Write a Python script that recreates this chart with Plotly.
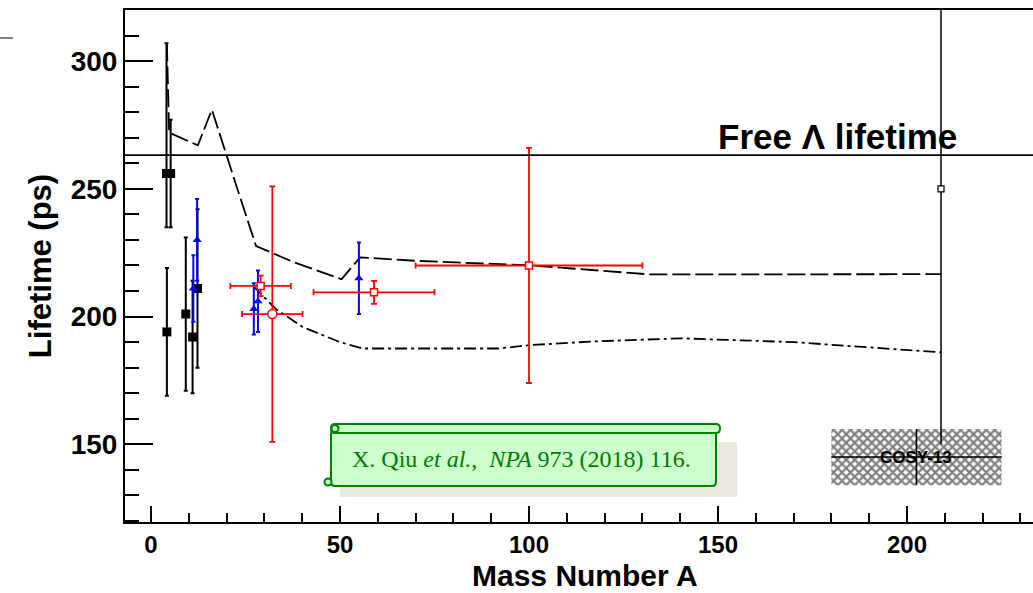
import plotly.graph_objects as go

# ---------------- data ----------------
black_A = [4.1, 5.2, 4.2, 9.2, 11.0, 12.3]
black_tau = [256, 256, 194, 201, 192, 211]
black_up = [51, 21, 25, 30, 22, 31]
black_dn = [21, 21, 25, 30, 22, 31]

blue_A = [11.2, 12.2, 27.2, 28.3, 55.0]
blue_tau = [211, 230, 203, 206, 215]
blue_err = [13, 16, 10, 12, 14]

red_sq_A = [29.0, 59.0, 100.0]
red_sq_tau = [212, 209.5, 220]
red_sq_yerr = [4, 4.5, 46]
red_sq_xerr = [8, 16, 30]

red_ci_A = [32.1]
red_ci_tau = [201]
red_ci_yerr = [50]
red_ci_xerr = [8]

pb_A = [209]
pb_tau = [250]
pb_up = [100]
pb_dn = [100]

cosy_A = [202.5]
cosy_tau = [145]
cosy_xerr = [22.5]
cosy_yerr = [11]

free_tau = 263.2

theo1_A = [4.2, 4.8, 12.4, 16.1, 23.5, 27.8, 37.6, 47.3, 50.4, 55.3, 70.3, 100, 132, 209]
theo1_tau = [307, 272, 267, 281, 247, 227.6, 221.4, 216.2, 214.6, 223.2, 221.8, 220.1, 216.5, 216.6]

theo2_A = [27, 33, 40, 50, 56, 92, 100, 116, 140, 170, 209]
theo2_tau = [212, 203, 196, 190, 187.5, 187.5, 188.8, 190.2, 191.5, 190, 186]

# ---------------- geometry helpers (pixel -> paper) ----------------
L, R, T, B = 125, 1033, 10, 522
def px(x):
    return (x - L) / (R - L)
def py(y):
    return (B - y) / (B - T)

FONT = "Liberation Sans"

fig = go.Figure()

# theory curves
fig.add_trace(go.Scatter(x=theo1_A, y=theo1_tau, mode="lines",
                         line=dict(color="black", width=1.8, dash="18px,5px"),
                         showlegend=False, hoverinfo="skip"))
fig.add_trace(go.Scatter(x=theo2_A, y=theo2_tau, mode="lines",
                         line=dict(color="black", width=1.8, dash="12px,4px,3px,4px"),
                         showlegend=False, hoverinfo="skip"))

# COSY-13 hatched band
cx0, cx1 = cosy_A[0] - cosy_xerr[0], cosy_A[0] + cosy_xerr[0]
cy0, cy1 = cosy_tau[0] - cosy_yerr[0], cosy_tau[0] + cosy_yerr[0]
fig.add_trace(go.Scatter(x=[cx0, cx1, cx1, cx0, cx0], y=[cy0, cy0, cy1, cy1, cy0],
                         mode="lines", fill="toself", line=dict(width=0, color="rgba(0,0,0,0)"),
                         fillcolor="white",
                         fillpattern=dict(shape="x", fgcolor="black", bgcolor="white",
                                          size=6, solidity=0.6),
                         showlegend=False, hoverinfo="skip"))
fig.add_trace(go.Scatter(x=cosy_A, y=cosy_tau, mode="markers",
                         marker=dict(size=1, color="black"),
                         error_x=dict(type="data", array=cosy_xerr, color="black", thickness=1.5, width=0),
                         error_y=dict(type="data", array=cosy_yerr, color="black", thickness=1.5, width=0),
                         showlegend=False))

# Pb point
fig.add_trace(go.Scatter(x=pb_A, y=pb_tau, mode="markers",
                         marker=dict(symbol="square", size=6, color="white",
                                     line=dict(color="black", width=1.2)),
                         error_y=dict(type="data", array=pb_up, arrayminus=pb_dn,
                                      color="black", thickness=1.5, width=0),
                         showlegend=False))

# black squares
fig.add_trace(go.Scatter(x=black_A, y=black_tau, mode="markers",
                         marker=dict(symbol="square", size=9, color="black"),
                         error_y=dict(type="data", array=black_up, arrayminus=black_dn,
                                      color="black", thickness=2, width=2),
                         showlegend=False))

# blue triangles
fig.add_trace(go.Scatter(x=blue_A, y=blue_tau, mode="markers",
                         marker=dict(symbol="triangle-up", size=8, color="blue"),
                         error_y=dict(type="data", array=blue_err, color="blue", thickness=2, width=2),
                         showlegend=False))

# red open squares
fig.add_trace(go.Scatter(x=red_sq_A, y=red_sq_tau, mode="markers",
                         marker=dict(symbol="square", size=7, color="white",
                                     line=dict(color="red", width=1.5)),
                         error_y=dict(type="data", array=red_sq_yerr, color="red", thickness=1.8, width=3),
                         error_x=dict(type="data", array=red_sq_xerr, color="red", thickness=1.8, width=3),
                         showlegend=False))
# red open circle
fig.add_trace(go.Scatter(x=red_ci_A, y=red_ci_tau, mode="markers",
                         marker=dict(symbol="circle", size=9, color="white",
                                     line=dict(color="red", width=1.5)),
                         error_y=dict(type="data", array=red_ci_yerr, color="red", thickness=1.8, width=3),
                         error_x=dict(type="data", array=red_ci_xerr, color="red", thickness=1.8, width=3),
                         showlegend=False))

shapes = []
# free lambda line
shapes.append(dict(type="line", xref="paper", yref="y", x0=0, x1=1, y0=free_tau, y1=free_tau,
                   line=dict(color="black", width=1.6)))
# annotation scroll: shadow
shapes.append(dict(type="rect", xref="paper", yref="paper",
                   x0=px(340), x1=px(737), y0=py(497), y1=py(442),
                   fillcolor="#ebe8df", line=dict(width=0), layer="above"))
# main green box (rounded)
x0, x1, y0, y1, r = 331, 716, 430, 486, 4
path = (f"M {px(x0+r)},{py(y0)} L {px(x1-r)},{py(y0)} Q {px(x1)},{py(y0)} {px(x1)},{py(y0+r)} "
        f"L {px(x1)},{py(y1-r)} Q {px(x1)},{py(y1)} {px(x1-r)},{py(y1)} "
        f"L {px(x0+r)},{py(y1)} Q {px(x0)},{py(y1)} {px(x0)},{py(y1-r)} "
        f"L {px(x0)},{py(y0+r)} Q {px(x0)},{py(y0)} {px(x0+r)},{py(y0)} Z")
shapes.append(dict(type="path", xref="paper", yref="paper", path=path,
                   fillcolor="#ccffcc", line=dict(color="#008000", width=2), layer="above"))
# top tube
tx0, tx1, ty0, ty1 = 331, 720, 424, 433
tpath = (f"M {px(tx0+4)},{py(ty0)} L {px(tx1-4)},{py(ty0)} Q {px(tx1)},{py(ty0)} {px(tx1)},{py((ty0+ty1)/2)} "
         f"Q {px(tx1)},{py(ty1)} {px(tx1-4)},{py(ty1)} L {px(tx0+4)},{py(ty1)} "
         f"Q {px(tx0)},{py(ty1)} {px(tx0)},{py((ty0+ty1)/2)} Q {px(tx0)},{py(ty0)} {px(tx0+4)},{py(ty0)} Z")
shapes.append(dict(type="path", xref="paper", yref="paper", path=tpath,
                   fillcolor="#ccffcc", line=dict(color="#008000", width=2), layer="above"))
# small curls
for cxp, cyp in [(335, 428.5), (328, 482)]:
    shapes.append(dict(type="circle", xref="paper", yref="paper",
                       x0=px(cxp-3.5), x1=px(cxp+3.5), y0=py(cyp+3.5), y1=py(cyp-3.5),
                       fillcolor="#ccffcc", line=dict(color="#008000", width=2), layer="above"))
# tiny artifact at top-left
shapes.append(dict(type="line", xref="paper", yref="paper", x0=px(0), x1=px(13), y0=py(38), y1=py(38),
                   line=dict(color="black", width=1)))

annotations = [
    dict(xref="paper", yref="paper", x=px(521), y=py(459), xanchor="center", yanchor="middle",
         text="X. Qiu <i>et al.</i>,  <i>NPA</i> 973 (2018) 116.", showarrow=False,
         font=dict(family="Liberation Serif", size=24, color="#007a00")),
    dict(xref="paper", yref="paper", x=px(716), y=py(158), xanchor="left", yanchor="bottom",
         text="Free Λ lifetime", showarrow=False,
         font=dict(family=FONT, size=35, color="black", weight="bold")),
    dict(xref="x", yref="y", x=cosy_A[0], y=cosy_tau[0], xanchor="center", yanchor="middle",
         text="COSY-13", showarrow=False,
         font=dict(family=FONT, size=17, color="black", weight="bold")),
    dict(xref="paper", yref="paper", x=px(585), y=py(593), xanchor="center", yanchor="bottom",
         text="Mass Number A", showarrow=False, borderpad=0,
         font=dict(family=FONT, size=30, color="black", weight="bold")),
]

fig.update_layout(
    width=1033, height=593,
    margin=dict(l=L, r=0, t=T, b=593 - B),
    paper_bgcolor="white", plot_bgcolor="white",
    shapes=shapes, annotations=annotations,
    xaxis=dict(range=[(L - 151) / 3.78, (R - 151) / 3.78],
               showline=True, linecolor="black", linewidth=2, mirror=True,
               ticks="inside", ticklen=16, tickwidth=1.5, tickcolor="black", dtick=50, tick0=0,
               minor=dict(dtick=10, ticks="inside", ticklen=9, tickwidth=1.5, tickcolor="black"),
               showgrid=False, zeroline=False,
               tickfont=dict(family=FONT, size=24, color="black", weight="bold")),
    yaxis=dict(range=[119.6, 320],
               showline=True, linecolor="black", linewidth=2, mirror=False,
               ticks="inside", ticklen=28, tickwidth=1.5, tickcolor="black", dtick=50, tick0=0,
               minor=dict(dtick=10, ticks="inside", ticklen=14, tickwidth=1.5, tickcolor="black"),
               showgrid=False, zeroline=False,
               tickfont=dict(family=FONT, size=28, color="black", weight="bold"),
               title=dict(text="Lifetime (ps)", standoff=10,
                          font=dict(family=FONT, size=31, color="black", weight="bold"))),
)

fig.write_html("out.html")
